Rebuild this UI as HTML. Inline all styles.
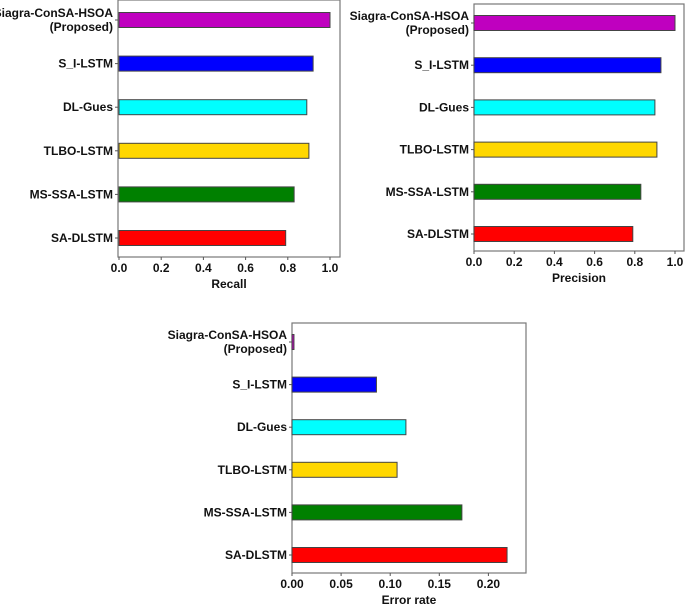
<!DOCTYPE html>
<html><head><meta charset="utf-8"><style>
html,body{margin:0;padding:0;background:#fff;}
svg{display:block;font-family:"Liberation Sans","DejaVu Sans",sans-serif;font-weight:bold;}
</style></head><body>
<svg id="chart" width="685" height="606" viewBox="0 0 685 606" xmlns="http://www.w3.org/2000/svg"></svg>
<script>
const categories = ["Siagra-ConSA-HSOA|(Proposed)","S_I-LSTM","DL-Gues","TLBO-LSTM","MS-SSA-LSTM","SA-DLSTM"];
const recallValues = [1.0, 0.92, 0.89, 0.90, 0.83, 0.79];
const precisionValues = [1.0, 0.93, 0.90, 0.91, 0.83, 0.79];
const errorValues = [0.002, 0.086, 0.116, 0.107, 0.173, 0.219];
const recallTicks = ["0.0","0.2","0.4","0.6","0.8","1.0"];
const precisionTicks = ["0.0","0.2","0.4","0.6","0.8","1.0"];
const errorTicks = ["0.00","0.05","0.10","0.15","0.20"];
const colors = ["#bf00bf","#0000ff","#00ffff","#ffd700","#008000","#ff0000"];

const NS="http://www.w3.org/2000/svg";
const svg=document.getElementById('chart');
function mk(tag,attrs,parent){const e=document.createElementNS(NS,tag);for(const k in attrs)e.setAttribute(k,attrs[k]);(parent||svg).appendChild(e);return e;}

function drawChart(cfg,values,ticks){
  const g=mk('g',{});
  
  
  const x=v=>cfg.x0+(v-0)*cfg.pxPerUnit;
  const y=i=>cfg.yTop+i*cfg.step;
  const frame=mk('rect',{x:cfg.left,y:cfg.top,width:cfg.right-cfg.left,height:cfg.bottom-cfg.top,fill:'none',stroke:'#777','stroke-width':1.2},g);
  
  
  categories.forEach((c,i)=>{
    const cy=y(i);
    const bar=mk('rect',{x:x(0),y:cy-7.5,width:Math.max(0,x(values[i])-x(0)),height:15,fill:colors[i],stroke:'#444','stroke-width':1},g);
    
    
    mk('line',{x1:cfg.left-3,x2:cfg.left,y1:cy,y2:cy,stroke:'#555'},g);
    const parts=c.split('|');
    parts.forEach((p,j)=>{
      const t=mk('text',{x:cfg.left-5,y:cy+4+(parts.length>1?(j-0.5)*14:0),'text-anchor':'end','font-size':12,fill:'#111'},g);
      t.textContent=p;
      
      
    });
  });
  ticks.forEach(tk=>{
    const tx=x(parseFloat(tk));
    mk('line',{x1:tx,x2:tx,y1:cfg.bottom,y2:cfg.bottom+3,stroke:'#555'},g);
    const t=mk('text',{x:tx,y:cfg.bottom+15,'text-anchor':'middle','font-size':12,fill:'#111'},g);
    t.textContent=tk;
    
    
  });
  const title=mk('text',{x:(cfg.left+cfg.right)/2,y:cfg.bottom+31,'text-anchor':'middle','font-size':12,fill:'#111'},g);
  title.textContent=cfg.title;
  
  
}

drawChart({name:'recall-chart',left:118,right:340,top:0,bottom:257,x0:119,pxPerUnit:211,yTop:20,step:43.6,title:'Recall'},recallValues,recallTicks);
drawChart({name:'precision-chart',left:474,right:684,top:4,bottom:251,x0:474,pxPerUnit:201,yTop:23,step:42.2,title:'Precision'},precisionValues,precisionTicks);
drawChart({name:'error-rate-chart',left:292,right:526,top:323,bottom:573,x0:292,pxPerUnit:982,yTop:342,step:42.6,title:'Error rate'},errorValues,errorTicks);
</script>
</body></html>
